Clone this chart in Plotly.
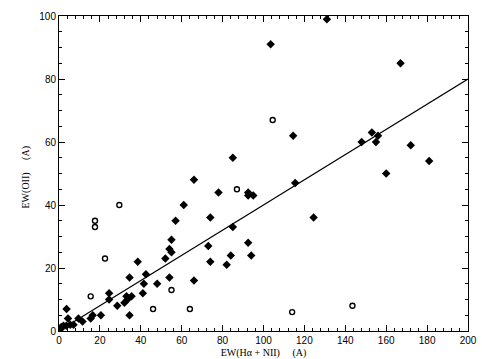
import plotly.graph_objects as go

# Filled symbols
filled_x = [103.5, 131, 167, 114.5, 153, 148, 155, 156, 172, 181, 160, 115.5, 124.5,
            85, 66, 78, 92.5, 92.5, 95, 61, 57, 74, 85, 55, 73, 54, 55, 52, 74, 84, 82,
            92.5, 94, 38.5, 42.5, 34.5, 54, 66, 41.5, 48, 41, 24.5, 24.5, 33, 35.5, 33.5,
            32, 28.5, 34.5, 20.5, 16.5, 15.5, 11.5, 9.5, 3.7, 4.4, 7.1, 5.5, 3.6, 2.2, 1.1, 0.8]
filled_y = [91, 99, 85, 62, 63, 60, 60, 62, 59, 54, 50, 47, 36,
            55, 48, 44, 44, 43, 43, 40, 35, 36, 33, 29, 27, 26, 25, 23, 22, 24, 21,
            28, 24, 22, 18, 17, 17, 16, 15, 15, 12, 12, 10, 11, 11, 10,
            9, 8, 5, 5, 5, 4, 3, 4, 7, 4, 2, 2, 1.7, 1.7, 1.3, 0.6]

# Open symbols
open_x = [104.5, 87, 29.5, 17.6, 17.6, 22.5, 15.5, 55, 46, 64, 114, 143.5]
open_y = [67, 45, 40, 35, 33, 23, 11, 13, 7, 7, 6, 8]

# Fit line
fit_x = [4.5, 200]
fit_y = [1.8, 80]

x_ticks = [0, 20, 40, 60, 80, 100, 120, 140, 160, 180, 200]
y_ticks = [0, 20, 40, 60, 80, 100]

fig = go.Figure()
fig.add_trace(go.Scatter(x=fit_x, y=fit_y, mode="lines",
                         line=dict(color="black", width=1.2), showlegend=False))
fig.add_trace(go.Scatter(x=filled_x, y=filled_y, mode="markers",
                         marker=dict(symbol="diamond", size=6.5, color="black",
                                     line=dict(width=0)), showlegend=False))
fig.add_trace(go.Scatter(x=open_x, y=open_y, mode="markers",
                         marker=dict(symbol="circle-open", size=5, color="black",
                                     line=dict(width=1.4)), showlegend=False))

axis_common = dict(showgrid=False, zeroline=False, showline=True, linecolor="black",
                   linewidth=1, mirror="ticks", ticks="inside", ticklen=6,
                   tickcolor="black", tickwidth=1, automargin=False,
                   tickfont=dict(family="Liberation Sans", size=10, color="black"))

fig.update_layout(
    width=482, height=359,
    margin=dict(l=59, r=14, t=16, b=28),
    paper_bgcolor="white", plot_bgcolor="white",
    xaxis=dict(range=[0, 200], tickvals=x_ticks,
               minor=dict(ticks="inside", ticklen=3, dtick=4, tickcolor="black"),
               title=dict(text="EW(H\u03b1 + NII)     (A)", standoff=4,
                          font=dict(family="Liberation Serif", size=10, color="black")),
               **axis_common),
    yaxis=dict(range=[0, 100], tickvals=y_ticks,
               minor=dict(ticks="inside", ticklen=3, dtick=5, tickcolor="black"),
               **axis_common),
    annotations=[dict(text="EW(OII)     (A)", xref="paper", yref="paper",
                      x=0, y=0.5, xshift=-34, yshift=-4, textangle=-90,
                      showarrow=False, xanchor="center", yanchor="middle",
                      font=dict(family="Liberation Serif", size=10, color="black"))],
)

fig.write_html("out.html", config={"displayModeBar": False},
               post_script="document.body.style.margin='0';document.body.style.overflow='hidden';")
